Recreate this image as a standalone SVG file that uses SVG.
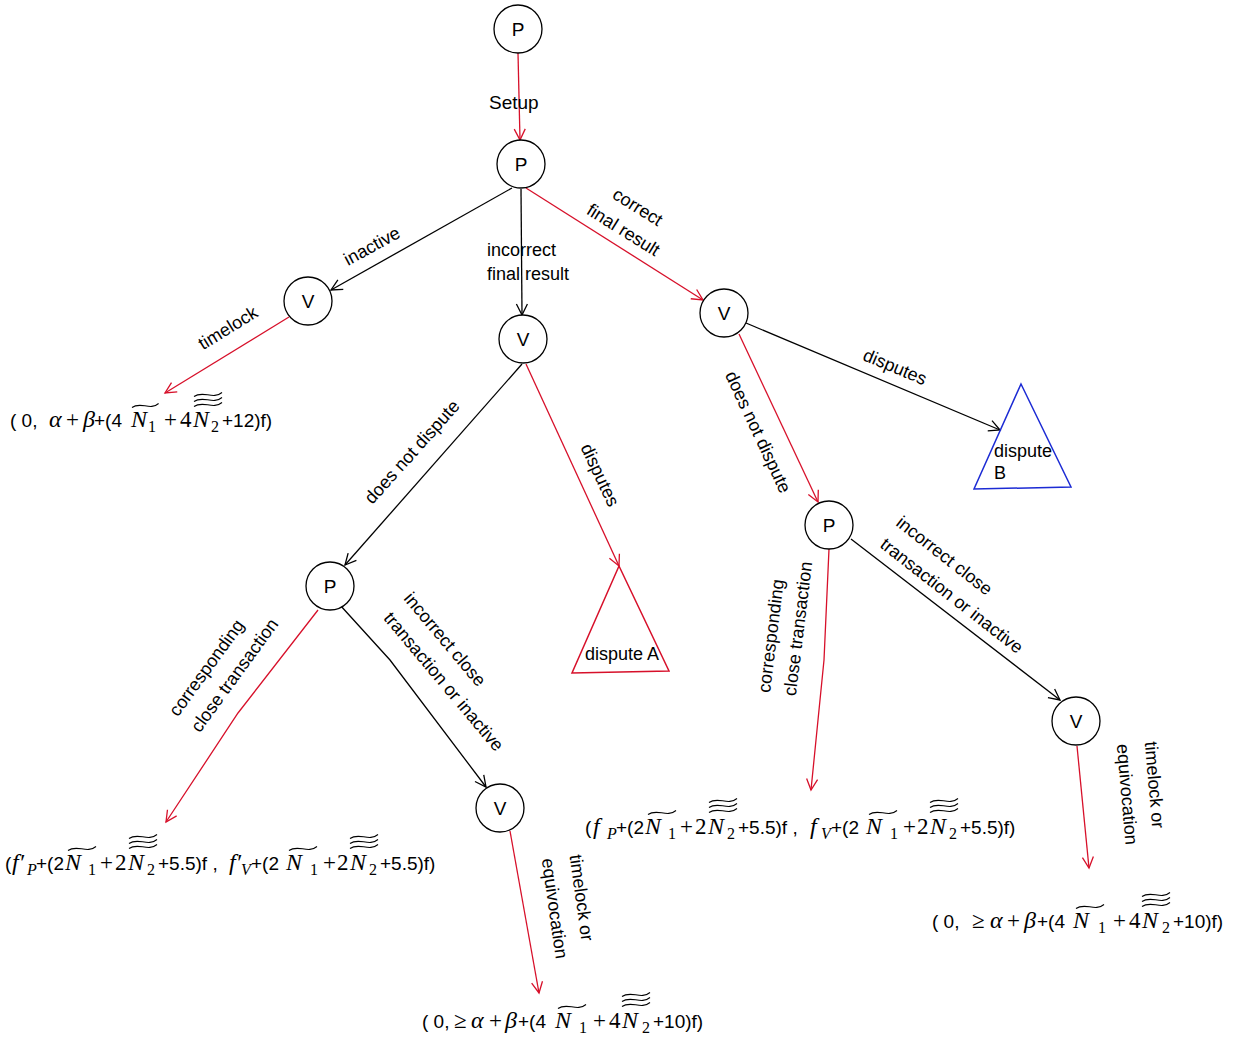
<svg xmlns="http://www.w3.org/2000/svg" xmlns:xlink="http://www.w3.org/1999/xlink" width="1240" height="1042" viewBox="0 0 1240 1042">
<style>
.s{font-family:"Liberation Sans",Arial,sans-serif;font-size:19px;fill:#000}
.m{font-family:"Liberation Serif","Times New Roman",serif;font-size:23px;font-style:normal}
.mi{font-family:"Liberation Serif","Times New Roman",serif;font-size:24px;font-style:italic}
.sub{font-family:"Liberation Serif","Times New Roman",serif;font-size:16px}
.subi{font-family:"Liberation Serif","Times New Roman",serif;font-size:16px;font-style:italic}
.lab{font-family:"Liberation Sans",Arial,sans-serif;font-size:18px;fill:#000}
.nl{font-family:"Liberation Sans",Arial,sans-serif;font-size:19px;text-anchor:middle;fill:#000}
.mid{text-anchor:middle}
.node{fill:#fff;stroke:#000;stroke-width:1.3}
.er{fill:none;stroke:#d7102a;stroke-width:1.3;marker-end:url(#ar)}
.eb{fill:none;stroke:#000;stroke-width:1.3;marker-end:url(#ab)}
.tl{fill:none;stroke:#000;stroke-width:1.1}
</style>
<defs>
<marker id="ar" markerUnits="userSpaceOnUse" markerWidth="14" markerHeight="14" viewBox="0 0 14 14" refX="12" refY="7" orient="auto"><path d="M1,1.5 L12,7 L1,12.5" fill="none" stroke="#d7102a" stroke-width="1.3"/></marker>
<marker id="ab" markerUnits="userSpaceOnUse" markerWidth="14" markerHeight="14" viewBox="0 0 14 14" refX="12" refY="7" orient="auto"><path d="M1,1.5 L12,7 L1,12.5" fill="none" stroke="#000" stroke-width="1.3"/></marker>
<path id="t1" class="tl" d="M0,2.5 C9,-4 19,6 28,-1.5"/>
<g id="t3"><use xlink:href="#t1"/><use xlink:href="#t1" y="5"/><use xlink:href="#t1" y="10"/></g>
</defs>

<g id="edges">
<path class="er" d="M518,53 L520,140"/>
<path class="eb" d="M512,188 L331,290"/>
<path class="eb" d="M521,189 L522,315"/>
<path class="er" d="M526,188 L703,300"/>
<path class="er" d="M289,317 L165,393"/>
<path class="eb" d="M522,364 L345,565"/>
<path class="er" d="M526,364 L619,566"/>
<path class="eb" d="M746,323 L1000,430"/>
<path class="er" d="M739,334 L818,502"/>
<path class="er" d="M318,610 L238,713 L166,822"/>
<path class="eb" d="M340,605 L390,660 L486,787"/>
<path class="er" d="M510,831 L539,993"/>
<path class="er" d="M829,549 L824,660 L811,790"/>
<path class="eb" d="M851,539 L1060,700"/>
<path class="er" d="M1077,746 L1089,868"/>
</g>

<g id="edge-labels">
<text class="lab" x="489" y="109" style="font-size:19px">Setup</text>
<g transform="translate(372,246) rotate(-28.7)"><text class="lab mid" y="6">inactive</text></g>
<text class="lab" x="487" y="256">incorrect</text>
<text class="lab" x="487" y="280">final result</text>
<g transform="translate(630.5,218.5) rotate(32)"><text class="lab mid" y="-7.5">correct</text><text class="lab mid" y="19.5">final result</text></g>
<g transform="translate(228,328) rotate(-31.5)"><text class="lab mid" y="6">timelock</text></g>
<g transform="translate(412,452) rotate(-48)"><text class="lab mid" y="6">does not dispute</text></g>
<g transform="translate(600,475) rotate(64.8)"><text class="lab mid" y="6">disputes</text></g>
<g transform="translate(895,367) rotate(22.6)"><text class="lab mid" y="6">disputes</text></g>
<g transform="translate(758,432) rotate(65)"><text class="lab mid" y="6">does not dispute</text></g>
<g transform="translate(173,714) rotate(-54)"><text class="lab" y="6">corresponding</text><text class="lab" y="33">close transaction</text></g>
<g transform="translate(407.6,595) rotate(50)"><text class="lab" y="6">incorrect close</text><text class="lab" x="2" y="34">transaction or inactive</text></g>
<g transform="translate(898.6,520) rotate(38)"><text class="lab" y="6">incorrect close</text><text class="lab" x="1" y="33">transaction or inactive</text></g>
<g transform="translate(764,692.6) rotate(-83)"><text class="lab" y="6">corresponding</text><text class="lab" y="32">close transaction</text></g>
<g transform="translate(575.4,854.6) rotate(82)"><text class="lab" y="6">timelock or</text><text class="lab" y="34">equivocation</text></g>
<g transform="translate(1150.7,741.5) rotate(85)"><text class="lab" y="6">timelock or</text><text class="lab" y="34">equivocation</text></g>
</g>

<g id="n-P1"><circle class="node" cx="518" cy="29" r="24"/><text class="nl" x="518" y="36">P</text></g>
<g id="n-P2"><circle class="node" cx="521" cy="164" r="24"/><text class="nl" x="521" y="171">P</text></g>
<g id="n-V1"><circle class="node" cx="308" cy="301" r="24"/><text class="nl" x="308" y="308">V</text></g>
<g id="n-V2"><circle class="node" cx="523" cy="339" r="24"/><text class="nl" x="523" y="346">V</text></g>
<g id="n-V3"><circle class="node" cx="724" cy="313" r="24"/><text class="nl" x="724" y="320">V</text></g>
<g id="n-P3"><circle class="node" cx="330" cy="586" r="24"/><text class="nl" x="330" y="593">P</text></g>
<g id="n-P4"><circle class="node" cx="829" cy="525" r="24"/><text class="nl" x="829" y="532">P</text></g>
<g id="n-V4"><circle class="node" cx="500" cy="808" r="24"/><text class="nl" x="500" y="815">V</text></g>
<g id="n-V5"><circle class="node" cx="1076" cy="721" r="24"/><text class="nl" x="1076" y="728">V</text></g>

<g id="n-disputeA"><polygon points="619,566 669,671 572,673" fill="none" stroke="#d7102a" stroke-width="1.5"/><text class="lab" x="585" y="660">dispute A</text></g>
<g id="n-disputeB"><polygon points="1021,384 1071,487 974,489" fill="none" stroke="#1c2bd4" stroke-width="1.5"/><text class="lab" x="994" y="457">dispute</text><text class="lab" x="994" y="479">B</text></g>

<g id="payoff1">
<text class="s" y="427"><tspan x="10">( 0,</tspan><tspan class="mi" x="49">α</tspan><tspan class="m" x="66">+</tspan><tspan class="mi" x="83">β</tspan><tspan x="94">+(4</tspan><tspan class="mi" x="131">N</tspan><tspan class="sub" x="148" y="432">1</tspan><tspan class="m" x="164" y="427">+</tspan><tspan class="m" x="180">4</tspan><tspan class="mi" x="193">N</tspan><tspan class="sub" x="211" y="432">2</tspan><tspan x="222" y="427">+12)f)</tspan></text>
<use xlink:href="#t1" transform="translate(132,405) scale(0.95,1)"/>
<use xlink:href="#t3" transform="translate(194,394)"/>
</g>

<g id="payoff2">
<text class="s" y="870"><tspan x="5">(</tspan><tspan class="mi" x="12">f′</tspan><tspan class="subi" x="27" y="875">P</tspan><tspan x="36" y="870">+(2</tspan><tspan class="mi" x="65">N</tspan><tspan class="sub" x="88" y="875">1</tspan><tspan class="m" x="100" y="870">+</tspan><tspan class="m" x="115">2</tspan><tspan class="mi" x="128">N</tspan><tspan class="sub" x="147" y="875">2</tspan><tspan x="158" y="870">+5.5)f ,</tspan><tspan class="mi" x="229">f′</tspan><tspan class="subi" x="241" y="875">V</tspan><tspan x="251" y="870">+(2</tspan><tspan class="mi" x="286">N</tspan><tspan class="sub" x="310" y="875">1</tspan><tspan class="m" x="323" y="870">+</tspan><tspan class="m" x="337">2</tspan><tspan class="mi" x="350">N</tspan><tspan class="sub" x="369" y="875">2</tspan><tspan x="380" y="870">+5.5)f)</tspan></text>
<use xlink:href="#t1" transform="translate(68,848)"/>
<use xlink:href="#t3" transform="translate(129,836)"/>
<use xlink:href="#t1" transform="translate(289,848)"/>
<use xlink:href="#t3" transform="translate(350,836)"/>
</g>

<g id="payoff3" transform="translate(580,-36)">
<text class="s" y="870"><tspan x="5">(</tspan><tspan class="mi" x="13">f</tspan><tspan class="subi" x="27" y="875">P</tspan><tspan x="36" y="870">+(2</tspan><tspan class="mi" x="65">N</tspan><tspan class="sub" x="88" y="875">1</tspan><tspan class="m" x="100" y="870">+</tspan><tspan class="m" x="115">2</tspan><tspan class="mi" x="128">N</tspan><tspan class="sub" x="147" y="875">2</tspan><tspan x="158" y="870">+5.5)f ,</tspan><tspan class="mi" x="230">f</tspan><tspan class="subi" x="241" y="875">V</tspan><tspan x="251" y="870">+(2</tspan><tspan class="mi" x="286">N</tspan><tspan class="sub" x="310" y="875">1</tspan><tspan class="m" x="323" y="870">+</tspan><tspan class="m" x="337">2</tspan><tspan class="mi" x="350">N</tspan><tspan class="sub" x="369" y="875">2</tspan><tspan x="380" y="870">+5.5)f)</tspan></text>
<use xlink:href="#t1" transform="translate(68,848)"/>
<use xlink:href="#t3" transform="translate(129,836)"/>
<use xlink:href="#t1" transform="translate(289,848)"/>
<use xlink:href="#t3" transform="translate(350,836)"/>
</g>

<g id="payoff4">
<text class="s" y="928"><tspan x="932">( 0,</tspan><tspan class="m" x="972">≥</tspan><tspan class="mi" x="990">α</tspan><tspan class="m" x="1007">+</tspan><tspan class="mi" x="1024">β</tspan><tspan x="1037">+(4</tspan><tspan class="mi" x="1073">N</tspan><tspan class="sub" x="1098" y="933">1</tspan><tspan class="m" x="1113" y="928">+</tspan><tspan class="m" x="1129">4</tspan><tspan class="mi" x="1142">N</tspan><tspan class="sub" x="1162" y="933">2</tspan><tspan x="1173" y="928">+10)f)</tspan></text>
<use xlink:href="#t1" transform="translate(1076,906)"/>
<use xlink:href="#t3" transform="translate(1142,894)"/>
</g>

<g id="payoff5">
<text class="s" y="1028"><tspan x="422">( 0,</tspan><tspan class="m" x="454">≥</tspan><tspan class="mi" x="471">α</tspan><tspan class="m" x="489">+</tspan><tspan class="mi" x="505">β</tspan><tspan x="518">+(4</tspan><tspan class="mi" x="555">N</tspan><tspan class="sub" x="579" y="1033">1</tspan><tspan class="m" x="593" y="1028">+</tspan><tspan class="m" x="609">4</tspan><tspan class="mi" x="622">N</tspan><tspan class="sub" x="642" y="1033">2</tspan><tspan x="653" y="1028">+10)f)</tspan></text>
<use xlink:href="#t1" transform="translate(558,1006)"/>
<use xlink:href="#t3" transform="translate(622,994)"/>
</g>
</svg>
